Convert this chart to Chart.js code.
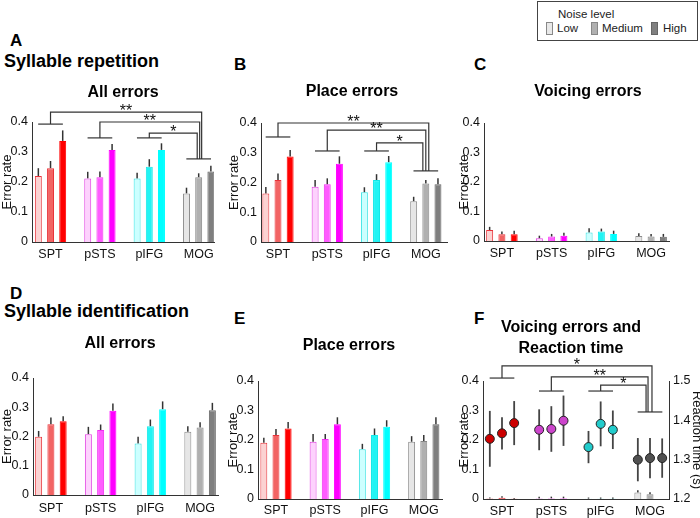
<!DOCTYPE html>
<html>
<head>
<meta charset="utf-8">
<script src="https://cdn.jsdelivr.net/npm/chart.js@4.4.0/dist/chart.umd.min.js"></script>
<style>
  body { margin: 0; background: #fff; }
  #wrap { position: relative; width: 700px; height: 518px; overflow: hidden; font-family: "Liberation Sans", Arial, sans-serif; color: #000; }
  canvas { position: absolute; }
  .head { position: absolute; font-weight: bold; white-space: nowrap; transform: translateY(-50%); }
  .ttl { position: absolute; font-weight: bold; font-size: 16px; white-space: nowrap; text-align: center; line-height: 21px; transform: translate(-50%, -50%); z-index: 2; }
  #legend { position: absolute; left: 537px; top: 1px; width: 159px; height: 38px; border: 1px solid #444; font-size: 11.5px; color: #222; }
  #legend span { position: absolute; white-space: nowrap; transform: translateY(-50%); }
  #legend i { position: absolute; width: 5px; height: 11px; top: 20px; border: 1px solid #888; }
</style>
</head>
<body>
<div id="wrap">
  <div id="legend">
    <span style="left:20px; top:12px">Noise level</span>
    <i style="left:8px; background:#e8e8e8"></i><span style="left:19px; top:26px">Low</span>
    <i style="left:53px; background:#b0b0b0"></i><span style="left:64px; top:26px">Medium</span>
    <i style="left:113px; background:#808080; border-color:#666"></i><span style="left:125px; top:26px">High</span>
  </div>

  <div class="head" style="left:10px; top:41px; font-size:17px">A</div>
  <div class="head" style="left:4px; top:61px; font-size:18px">Syllable repetition</div>
  <div class="head" style="left:234px; top:65px; font-size:17px">B</div>
  <div class="head" style="left:474px; top:65px; font-size:17px">C</div>
  <div class="ttl" style="left:123px; top:91px">All errors</div>
  <div class="ttl" style="left:352px; top:90px">Place errors</div>
  <div class="ttl" style="left:588px; top:90px">Voicing errors</div>

  <div class="head" style="left:10px; top:294px; font-size:17px">D</div>
  <div class="head" style="left:4px; top:311px; font-size:18px">Syllable identification</div>
  <div class="head" style="left:234px; top:319px; font-size:17px">E</div>
  <div class="head" style="left:474px; top:319px; font-size:17px">F</div>
  <div class="ttl" style="left:120px; top:342px">All errors</div>
  <div class="ttl" style="left:349px; top:344px">Place errors</div>
  <div class="ttl" style="left:571px; top:337px">Voicing errors and<br>Reaction time</div>

  <canvas id="pA"></canvas>
  <canvas id="pB"></canvas>
  <canvas id="pC"></canvas>
  <canvas id="pD"></canvas>
  <canvas id="pE"></canvas>
  <canvas id="pF"></canvas>
</div>

<script>
const regions = ["SPT", "pSTS", "pIFG", "MOG"];
const noiseLevels = ["Low", "Medium", "High"];

// A: syllable repetition, all errors
const repAllLow = [0.220, 0.212, 0.212, 0.162];
const repAllMed = [0.246, 0.216, 0.251, 0.216];
const repAllHigh = [0.337, 0.307, 0.307, 0.235];
const repAllErrLow = [0.026, 0.022, 0.019, 0.019];
const repAllErrMed = [0.024, 0.019, 0.025, 0.013];
const repAllErrHigh = [0.035, 0.020, 0.022, 0.019];

// B: syllable repetition, place errors
const repPlaceLow = [0.163, 0.186, 0.167, 0.137];
const repPlaceMed = [0.208, 0.194, 0.208, 0.197];
const repPlaceHigh = [0.287, 0.263, 0.268, 0.194];
const repPlaceErrLow = [0.022, 0.022, 0.017, 0.015];
const repPlaceErrMed = [0.022, 0.020, 0.020, 0.011];
const repPlaceErrHigh = [0.022, 0.025, 0.021, 0.020];

// C: syllable repetition, voicing errors
const repVoiceLow = [0.037, 0.009, 0.029, 0.017];
const repVoiceMed = [0.023, 0.015, 0.032, 0.015];
const repVoiceHigh = [0.023, 0.018, 0.024, 0.014];
const repVoiceErrLow = [0.011, 0.009, 0.014, 0.009];
const repVoiceErrMed = [0.009, 0.009, 0.010, 0.009];
const repVoiceErrHigh = [0.012, 0.010, 0.011, 0.010];

// D: syllable identification, all errors
const idAllLow = [0.199, 0.208, 0.176, 0.216];
const idAllMed = [0.242, 0.222, 0.235, 0.231];
const idAllHigh = [0.252, 0.288, 0.293, 0.290];
const idAllErrLow = [0.020, 0.025, 0.023, 0.019];
const idAllErrMed = [0.023, 0.019, 0.023, 0.018];
const idAllErrHigh = [0.017, 0.025, 0.027, 0.025];

// E: syllable identification, place errors
const idPlaceLow = [0.191, 0.194, 0.169, 0.194];
const idPlaceMed = [0.217, 0.203, 0.217, 0.197];
const idPlaceHigh = [0.239, 0.253, 0.245, 0.253];
const idPlaceErrLow = [0.017, 0.026, 0.018, 0.019];
const idPlaceErrMed = [0.020, 0.017, 0.022, 0.020];
const idPlaceErrHigh = [0.022, 0.024, 0.022, 0.024];

// F: syllable identification, voicing errors + reaction time (s)
const idVoiceLow = [0.002, 0.002, 0.001, 0.022];
const idVoiceMed = [0.004, 0.002, 0.001, 0.016];
const idVoiceHigh = [0.001, 0.002, 0.001, 0.000];
const idVoiceErrLow = [0.003, 0.006, 0.004, 0.008];
const idVoiceErrMed = [0.005, 0.006, 0.004, 0.007];
const idVoiceErrHigh = [0.002, 0.006, 0.004, 0.000];
const rtLow = [1.353, 1.376, 1.332, 1.300];
const rtMed = [1.367, 1.378, 1.391, 1.304];
const rtHigh = [1.393, 1.399, 1.376, 1.304];
const rtErrLow = [0.071, 0.052, 0.041, 0.055];
const rtErrMed = [0.041, 0.058, 0.057, 0.051];
const rtErrHigh = [0.056, 0.064, 0.049, 0.050];

// significance brackets: [region index, group line, top line, drop offset at MOG, stars]
const sigA = [[0, 0.393, 0.433, 0.06, "**"], [1, 0.347, 0.400, 0.02, "**"], [2, 0.347, 0.363, -0.03, "*"]];
const sigB = [[0, 0.353, 0.400, 0.06, "**"], [1, 0.306, 0.376, 0.00, "**"], [2, 0.306, 0.333, -0.06, "*"]];
const sigF = [[0, 0.410, 0.451, 0.04, "*"], [1, 0.366, 0.414, -0.04, "**"], [2, 0.366, 0.386, -0.08, "*"]];

// colours per noise level, one per region
const barFill = [
  ["#fbd2d2", "#fdd2fd", "#ccffff", "#e6e6e6"],
  ["#f26464", "#ff5cff", "#22f4f4", "#b0b0b0"],
  ["#ff0000", "#ff00ff", "#00ffff", "#7f7f7f"]
];
const barEdge = [
  ["#e8333a", "#e23de2", "#33e3e3", "#8c8c8c"],
  ["#e8333a", "#f030f0", "#12e8e8", "#888888"],
  ["#ff0000", "#ff00ff", "#00ffff", "#666666"]
];
const dotFill = ["#cc0000", "#cc44cc", "#22cccc", "#505050"];
const GROUP = 0.74;
const TICK_FONT = { size: 12.5 };

Chart.defaults.font.family = '"Liberation Sans", Arial, sans-serif';
Chart.defaults.color = "#111";

const errorBars = {
  id: "errorBars",
  beforeDatasetsDraw(chart) {
    const ctx = chart.ctx;
    chart.data.datasets.forEach((ds, di) => {
      if (!ds.err) return;
      const meta = chart.getDatasetMeta(di);
      const ys = chart.scales[meta.yAxisID];
      ctx.save();
      ctx.strokeStyle = ds.errColor || "#333";
      ctx.lineWidth = ds.errWidth || 1.5;
      meta.data.forEach((el, i) => {
        const v = ds.data[i].y, e = ds.err[i];
        if (!e) return;
        const top = ys.getPixelForValue(v + e);
        const bot = ys.getPixelForValue(ds.errBoth ? v - e : v);
        ctx.beginPath();
        ctx.moveTo(el.x, bot);
        ctx.lineTo(el.x, top);
        ctx.stroke();
      });
      ctx.restore();
    });
  }
};

const brackets = {
  id: "brackets",
  afterDraw(chart, args, opts) {
    if (!opts || !opts.rows) return;
    const xs = chart.scales.x, ys = chart.scales.y, ctx = chart.ctx;
    const line = pts => {
      ctx.beginPath();
      pts.forEach((p, k) => k ? ctx.lineTo(p[0], p[1]) : ctx.moveTo(p[0], p[1]));
      ctx.stroke();
    };
    ctx.save();
    ctx.strokeStyle = "#333";
    ctx.lineWidth = 1.2;
    ctx.fillStyle = "#111";
    ctx.font = '16px "Liberation Sans", Arial, sans-serif';
    ctx.textAlign = "center";
    const my = ys.getPixelForValue(opts.mogY);
    line([[xs.getPixelForValue(3.75), my], [xs.getPixelForValue(4.25), my]]);
    opts.rows.forEach(r => {
      const cx = xs.getPixelForValue(r[0] + 1);
      const g = ys.getPixelForValue(r[1]);
      const t = ys.getPixelForValue(r[2]);
      const dx = xs.getPixelForValue(4 + r[3]);
      line([[xs.getPixelForValue(r[0] + 0.75), g], [xs.getPixelForValue(r[0] + 1.25), g]]);
      line([[cx, g], [cx, t], [dx, t], [dx, my]]);
      ctx.fillText(r[4], (cx + dx) / 2, t + 4);
    });
    ctx.restore();
  }
};

Chart.register(errorBars, brackets);

function barSets(vals, errs) {
  return noiseLevels.map((lvl, k) => ({
    type: "bar",
    label: lvl,
    data: vals[k].map((v, i) => ({ x: i + 1, y: v })),
    err: errs[k],
    backgroundColor: barFill[k],
    borderColor: barEdge[k],
    borderWidth: 1,
    categoryPercentage: GROUP,
    barPercentage: 0.57,
    order: 2
  }));
}

function rtSets(vals, errs) {
  return noiseLevels.map((lvl, k) => ({
    type: "scatter",
    label: "RT " + lvl,
    yAxisID: "y2",
    data: vals[k].map((v, i) => ({ x: i + 1 + (k - 1) * GROUP / 3, y: v })),
    err: errs[k],
    errBoth: true,
    errColor: "#444",
    errWidth: 1.8,
    pointRadius: 4.5,
    pointBackgroundColor: dotFill,
    pointBorderColor: "#222",
    pointBorderWidth: 1,
    order: 1
  }));
}

function axisLine() {
  return { display: true, color: "#333", width: 1 };
}

function makePanel(id, box, area, xRange, xPad, datasets, sig, rightW) {
  const cv = document.getElementById(id);
  cv.width = box[2];
  cv.height = box[3];
  cv.style.left = box[0] + "px";
  cv.style.top = box[1] + "px";
  const yW = area[0] - box[0];
  const xH = box[1] + box[3] - area[3];
  const scales = {
    x: {
      type: "linear", min: xRange[0], max: xRange[1], offset: false,
      afterBuildTicks: s => { s.ticks = regions.map((r, i) => ({ value: i + 1 })); },
      ticks: { callback: v => regions[Math.round(v) - 1], padding: xPad, font: TICK_FONT, autoSkip: false, maxRotation: 0 },
      grid: { display: false, drawTicks: false },
      border: axisLine(),
      afterFit: s => { s.height = xH; }
    },
    y: {
      min: 0, max: 0.4,
      ticks: { stepSize: 0.1, padding: 4, font: TICK_FONT },
      grid: { display: false, drawTicks: false },
      border: axisLine(),
      title: { display: true, text: "Error rate", font: { size: 13 }, padding: 0 },
      afterFit: s => { s.width = yW; }
    }
  };
  let padRight = box[0] + box[2] - area[2];
  if (rightW) {
    padRight -= rightW;
    scales.y2 = {
      position: "right", min: 1.2, max: 1.5,
      ticks: { stepSize: 0.1, padding: 4, font: TICK_FONT, callback: v => v.toFixed(1) },
      grid: { display: false, drawTicks: false },
      border: axisLine(),
      title: { display: true, text: "Reaction time (s)", font: { size: 13 }, padding: 0 },
      afterFit: s => { s.width = rightW; }
    };
  }
  return new Chart(cv, {
    type: "bar",
    data: { datasets: datasets },
    options: {
      responsive: false,
      animation: false,
      layout: { padding: { top: area[1] - box[1], right: padRight, bottom: 0, left: 0 } },
      scales: scales,
      plugins: {
        legend: { display: false },
        tooltip: { enabled: false },
        brackets: sig
      }
    }
  });
}

makePanel("pA", [0, 90, 230, 180], [32, 122, 214, 242], [0.625, 4.31], 5,
  barSets([repAllLow, repAllMed, repAllHigh], [repAllErrLow, repAllErrMed, repAllErrHigh]),
  { mogY: 0.277, rows: sigA });

makePanel("pB", [227, 90, 233, 180], [261, 123, 447, 242], [0.655, 4.43], 5,
  barSets([repPlaceLow, repPlaceMed, repPlaceHigh], [repPlaceErrLow, repPlaceErrMed, repPlaceErrHigh]),
  { mogY: 0.239, rows: sigB });

makePanel("pC", [457, 90, 243, 180], [484, 123, 669, 241], [0.64, 4.36], 5,
  barSets([repVoiceLow, repVoiceMed, repVoiceHigh], [repVoiceErrLow, repVoiceErrMed, repVoiceErrHigh]),
  {});

makePanel("pD", [0, 350, 230, 168], [33, 378, 218, 495], [0.64, 4.36], 6,
  barSets([idAllLow, idAllMed, idAllHigh], [idAllErrLow, idAllErrMed, idAllErrHigh]),
  {});

makePanel("pE", [226, 350, 232, 168], [258, 381, 442, 499], [0.635, 4.37], 4,
  barSets([idPlaceLow, idPlaceMed, idPlaceHigh], [idPlaceErrLow, idPlaceErrMed, idPlaceErrHigh]),
  {});

makePanel("pF", [457, 350, 247, 168], [483, 381, 669, 499], [0.615, 4.385], 5,
  barSets([idVoiceLow, idVoiceMed, idVoiceHigh], [idVoiceErrLow, idVoiceErrMed, idVoiceErrHigh])
    .concat(rtSets([rtLow, rtMed, rtHigh], [rtErrLow, rtErrMed, rtErrHigh])),
  { mogY: 0.295, rows: sigF }, 35);
</script>
</body>
</html>
